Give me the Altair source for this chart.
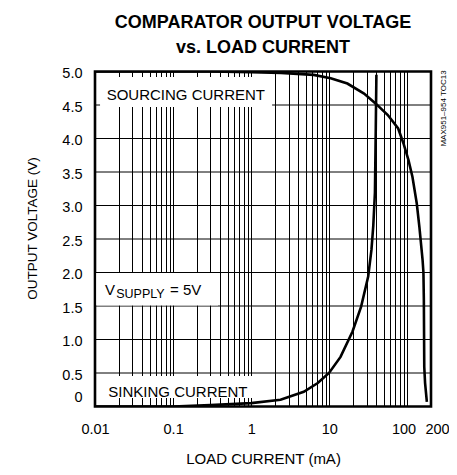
import altair as alt
import pandas as pd

# ---------------- data ----------------
# Sourcing current (output high) : load current (mA) vs output voltage (V)
src_current = [0.01, 0.3, 1.0, 2.4, 6.3, 10.4, 17, 27.8, 39.3, 56, 76, 88.7, 102.8, 115.7, 131.5, 142, 156, 160, 162, 164, 168, 177]
src_voltage = [5.0, 5.0, 4.99, 4.98, 4.95, 4.90, 4.82, 4.67, 4.52, 4.35, 4.15, 3.93, 3.68, 3.43, 3.03, 2.68, 2.19, 2.00, 1.59, 0.59, 0.35, 0.07]

# Sinking current (output low)
sink_current = [0.01, 0.1, 0.3, 1.0, 2.37, 4.7, 7.1, 9.9, 13.9, 19.8, 25.5, 31.4, 34.6, 36.5, 38.3, 39.3, 40.0]
sink_voltage = [0.0, 0.0, 0.02, 0.05, 0.10, 0.22, 0.35, 0.50, 0.74, 1.12, 1.49, 1.94, 2.34, 2.70, 3.19, 4.18, 4.95]

x_label_values = [0.01, 0.1, 1, 10, 100, 200]
y_ticks = [0, 0.5, 1.0, 1.5, 2.0, 2.5, 3.0, 3.5, 4.0, 4.5, 5.0]
decades = [0.01, 0.1, 1, 10, 100]

title_lines = ["COMPARATOR OUTPUT VOLTAGE", "vs. LOAD CURRENT"]
x_title = "LOAD CURRENT (mA)"
y_title = "OUTPUT VOLTAGE (V)"
side_note = "MAX951\u2013954 TOC13"

# ---------------- tables ----------------
x_grid = sorted(set([round(d * k, 6) for d in decades for k in range(1, 10)] + [200]))

rows = []
for i, (c, v) in enumerate(zip(src_current, src_voltage)):
    rows.append({"series": "sourcing", "idx": i, "current": c, "voltage": v})
for i, (c, v) in enumerate(zip(sink_current, sink_voltage)):
    rows.append({"series": "sinking", "idx": i, "current": c, "voltage": v})
curves = pd.DataFrame(rows)

hgrid = pd.DataFrame({"voltage": y_ticks})

# white label boxes (annotation placement, in data units)
boxes = pd.DataFrame([
    {"current": 0.0116, "x2": 1.85, "voltage": 4.47, "y2": 4.918},
    {"current": 0.0104, "x2": 0.376, "voltage": 1.508, "y2": 1.992},
    {"current": 0.0116, "x2": 1.80, "voltage": 0.127, "y2": 0.455},
])
big_labels = pd.DataFrame([
    {"current": 0.0141, "voltage": 4.575, "t": "SOURCING CURRENT"},
    {"current": 0.0148, "voltage": 0.142, "t": "SINKING CURRENT"},
    {"current": 0.01343, "voltage": 1.664, "t": "V"},
    {"current": 0.0912, "voltage": 1.664, "t": "= 5V"},
])
sub_labels = pd.DataFrame([{"current": 0.0187, "voltage": 1.615, "t": "SUPPLY"}])

FONT = "Liberation Sans, Arial, Helvetica, sans-serif"

xs = alt.Scale(type="log", domain=[0.01, 200], nice=False)
ys = alt.Scale(domain=[0, 5], nice=False, zero=False)

label_list = "[" + ",".join(str(v) for v in x_label_values) + "]"
x_axis = alt.Axis(
    values=x_grid, grid=True, ticks=False, domain=False,
    labelExpr=f"indexof({label_list}, datum.value) >= 0 ? toString(datum.value) : ''",
    labelFlush=False, labelOverlap=False, labelPadding=16,
    labelOffset={"condition": [{"test": "datum.value == 100", "value": -4},
                               {"test": "datum.value == 200", "value": 6}], "value": 0},
    title=x_title, titlePadding=15, titleFontSize=15,
)
y_axis = alt.Axis(
    values=y_ticks, grid=False, ticks=False, domain=False,
    labelExpr="datum.value == 0 ? '0' : format(datum.value, '.1f')",
    labelPadding=13,
    labelOffset={"condition": {"test": "datum.value == 0", "value": -9}, "value": 2},
    title=y_title, titleFontSize=13.5, titleX=-63, titleY=156.5, titleAngle=270,
    titleAlign="center", titleBaseline="middle",
)

X = alt.X("current:Q", scale=xs, axis=x_axis)
Y = alt.Y("voltage:Q", scale=ys, axis=y_axis)

grid_rules = alt.Chart(hgrid).mark_rule(color="black", strokeWidth=1).encode(y=Y)

rects = alt.Chart(boxes).mark_rect(fill="white", strokeWidth=0).encode(
    x=X, x2="x2:Q", y=Y, y2="y2:Q",
)

lines = alt.Chart(curves).mark_line(color="black", strokeWidth=2.6, clip=True).encode(
    x=X, y=Y, detail="series:N", order="idx:Q",
)

txt_big = alt.Chart(big_labels).mark_text(
    align="left", baseline="alphabetic", font=FONT, fontSize=15, color="black"
).encode(x=X, y=Y, text="t:N")

txt_sub = alt.Chart(sub_labels).mark_text(
    align="left", baseline="alphabetic", font=FONT, fontSize=12.5, color="black"
).encode(x=X, y=Y, text="t:N")

side = alt.Chart(pd.DataFrame([{"t": side_note}])).mark_text(
    angle=270, align="center", baseline="middle", font=FONT, fontSize=8, color="black"
).encode(
    x=alt.value(349), y=alt.value(37), text="t:N"
)

chart = alt.layer(grid_rules, rects, lines, txt_big, txt_sub, side).properties(
    width=336, height=335,
    autosize=alt.AutoSizeParams(type="none"),
    padding={"left": 87, "top": 63.5, "right": 18, "bottom": 60.5},
    background="white",
    title=alt.TitleParams(
        text=title_lines, font=FONT, fontSize=18, fontWeight="bold",
        lineHeight=25, anchor="middle", frame="group", offset=9, color="black",
    ),
).configure_view(
    stroke="black", strokeWidth=2.6
).configure_axis(
    gridColor="black", gridWidth=1, gridOpacity=1,
    labelFont=FONT, labelFontSize=14.5, labelColor="black",
    titleFont=FONT, titleFontWeight="normal", titleColor="black",
)

chart.save("out.html", embed_options={"renderer": "svg", "actions": False})
